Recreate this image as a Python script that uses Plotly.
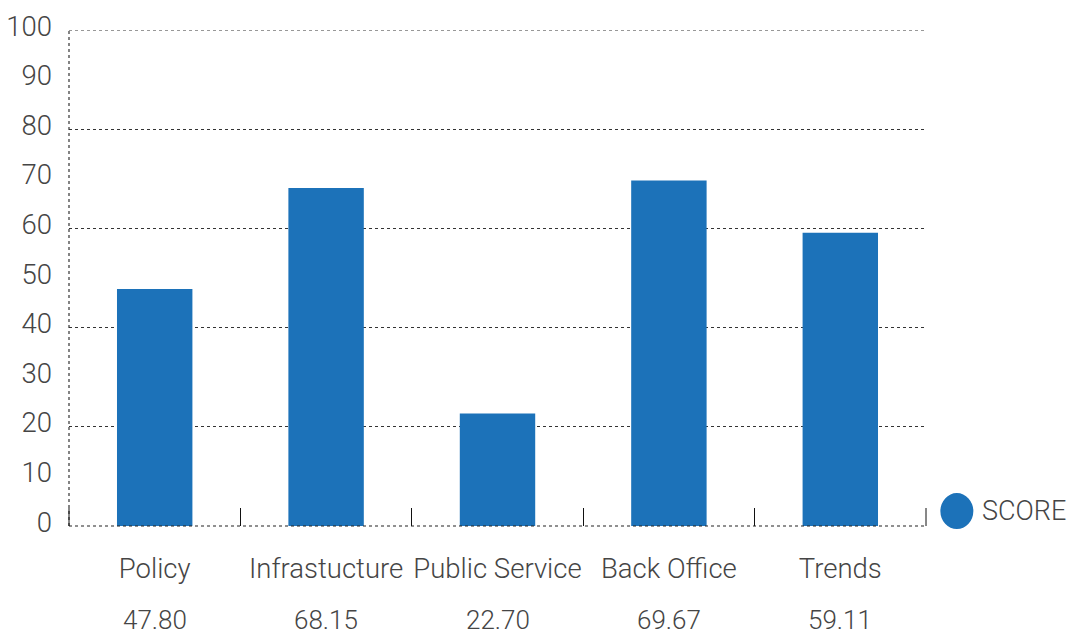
import plotly.graph_objects as go

# Score per area
categories = ["Policy", "Infrastucture", "Public Service", "Back Office", "Trends"]
scores = [47.80, 68.15, 22.70, 69.67, 59.11]
series_name = "SCORE"

y_label_ticks = [0, 10, 20, 30, 40, 50, 60, 70, 80, 90, 100]
grid_ticks = [20, 40, 60, 80, 100]

BAR_COLOR = "#1c72b9"
TEXT_COLOR = "#454545"
FONT = "Roboto, 'DejaVu Sans', sans-serif"
LIGHT = 300

fig = go.Figure()
fig.add_trace(go.Bar(
    x=categories,
    y=scores,
    name=series_name,
    marker=dict(color=BAR_COLOR, line=dict(width=0)),
    showlegend=False,
    hoverinfo="x+y",
))
# invisible companion trace on the overlay axis so its dotted grid is drawn
fig.add_trace(go.Scatter(x=categories, y=[None] * len(categories), yaxis="y2",
                         showlegend=False, hoverinfo="skip"))

grid_line = dict(color="#333333", width=1, dash="dot")

# score values printed under the category names
value_labels = [
    dict(text=f"{v:.2f}", x=c, y=0, xref="x", yref="paper", yshift=-94,
         xanchor="center", yanchor="middle", showarrow=False,
         font=dict(size=26, color=TEXT_COLOR, family=FONT, weight=LIGHT))
    for c, v in zip(categories, scores)
]

fig.update_layout(
    width=1072,
    height=637,
    margin=dict(l=69, r=146, t=30, b=111),
    paper_bgcolor="white",
    plot_bgcolor="white",
    font=dict(family=FONT, color=TEXT_COLOR, size=24, weight=LIGHT),
    bargap=0.56,
    xaxis=dict(
        tickmode="array",
        tickvals=categories,
        tickson="boundaries",
        ticks="inside",
        ticklen=18,
        tickwidth=1,
        tickcolor="#111111",
        tickangle=0,
        showgrid=False,
        showline=False,
        zeroline=False,
        automargin=False,
        tickfont=dict(size=27.5, color=TEXT_COLOR, family=FONT, weight=LIGHT),
        ticklabelstandoff=23,
    ),
    yaxis=dict(
        range=[0, 100],
        tickmode="array",
        tickvals=y_label_ticks,
        ticks="",
        showgrid=False,
        showline=False,
        zeroline=False,
        automargin=False,
        tickfont=dict(size=27.5, color=TEXT_COLOR, family=FONT, weight=LIGHT),
        ticklabelstandoff=16,
        ticklabelshift=-4,
    ),
    yaxis2=dict(
        range=[0, 100],
        overlaying="y",
        tickmode="array",
        tickvals=grid_ticks,
        showticklabels=False,
        showgrid=True,
        gridcolor="#333333",
        griddash="dot",
        gridwidth=1,
        zeroline=False,
        showline=False,
        automargin=False,
    ),
    shapes=[
        # dotted left axis
        dict(type="line", xref="paper", yref="paper", x0=0, x1=0, y0=0, y1=1,
             line=dict(color="#333333", width=1.2, dash="dot")),
        # top grid line
        dict(type="line", xref="paper", yref="y", x0=0, x1=1, y0=100, y1=100,
             line=grid_line),
        # bottom axis
        dict(type="line", xref="paper", yref="paper", x0=0, x1=1, y0=0, y1=0,
             line=dict(color="#222222", width=1.2, dash="dot")),
        # end ticks of the category axis
        dict(type="line", xref="paper", yref="paper", ysizemode="pixel", yanchor=0,
             x0=0, x1=0, y0=0, y1=18, line=dict(color="#111111", width=1)),
        dict(type="line", xref="paper", yref="paper", ysizemode="pixel", yanchor=0,
             x0=1, x1=1, y0=0, y1=18, line=dict(color="#111111", width=1)),
        # legend marker
        dict(type="circle", xref="paper", yref="paper", xsizemode="pixel", ysizemode="pixel",
             xanchor=1.036, yanchor=0.03, x0=-16.5, x1=16.5, y0=-18, y1=18,
             fillcolor=BAR_COLOR, line=dict(width=0)),
    ],
    annotations=value_labels + [
        dict(text=series_name, xref="paper", yref="paper", x=1.0625, y=0.03,
             xanchor="left", yanchor="middle", showarrow=False,
             font=dict(size=27, color=TEXT_COLOR, family=FONT, weight=LIGHT)),
    ],
)

fig.write_html("out.html")
